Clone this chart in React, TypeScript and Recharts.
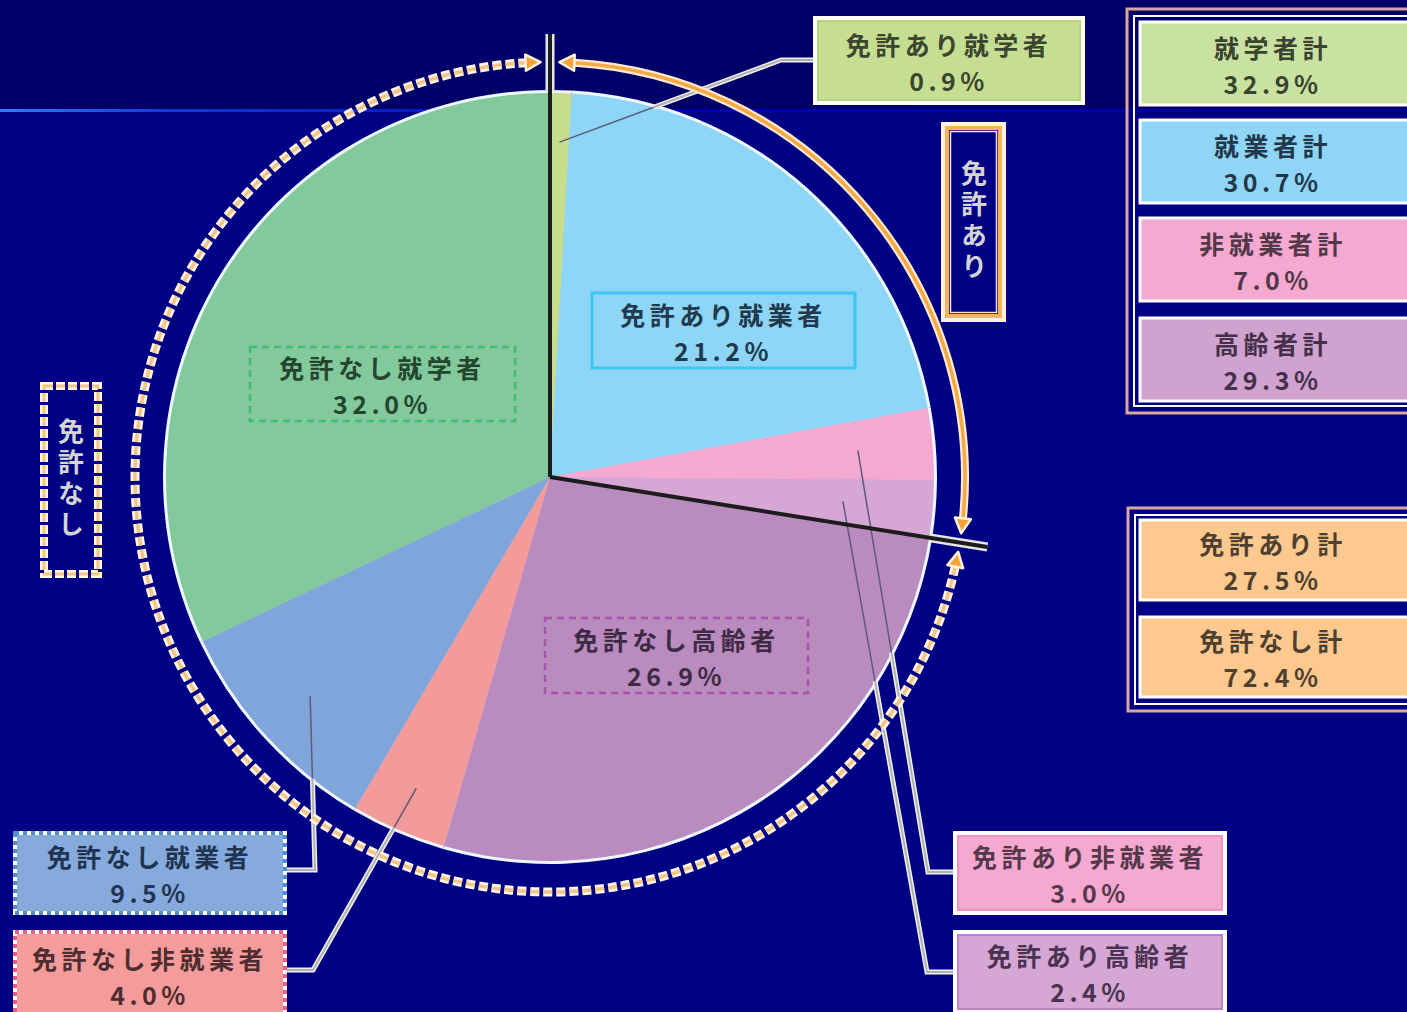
import React from 'react';
import { PieChart, Pie, Cell } from 'recharts';

// ---------------- data ----------------
const sliceNames = [
  '免許あり就学者',
  '免許あり就業者',
  '免許あり非就業者',
  '免許あり高齢者',
  '免許なし高齢者',
  '免許なし非就業者',
  '免許なし就業者',
  '免許なし就学者',
];
const sliceValues = [0.9, 21.2, 3.0, 2.4, 26.9, 4.0, 9.5, 32.0];

const licenseGroupNames = ['免許あり', '免許なし'];
const licenseGroupValues = [27.5, 72.4];

const categoryTotalNames = ['就学者計', '就業者計', '非就業者計', '高齢者計'];
const categoryTotalValues = [32.9, 30.7, 7.0, 29.3];

const licenseTotalNames = ['免許あり計', '免許なし計'];
const licenseTotalValues = [27.5, 72.4];

const slices = sliceNames.map((name, i) => ({ name, value: sliceValues[i] }));
const licenseGroups = licenseGroupNames.map((name, i) => ({ name, value: licenseGroupValues[i] }));

// ---------------- styles / layout ----------------
const W = 1407;
const H = 1012;
const FONT = '"Noto Sans CJK JP", "Noto Sans", sans-serif';
const RAD = Math.PI / 180;
const PIE_CX = 550;
const PIE_CY = 477;
const PIE_R = 384;
const RING_R = 415;
const DIVIDER_R = 443;

const SLICE_COLORS = ['#c8dd8c', '#8ed6f7', '#f6a9d0', '#d6a6d5', '#b98bbe', '#f39a9a', '#80a5da', '#82c99c'];

type LabelLayout = {
  box: [number, number, number, number];
  fill: string;
  border: 'frame' | 'solid' | 'dashed' | 'dotted';
  borderColor: string;
  text: string;
  leader?: { r: number; to: [number, number][] };
};

const SLICE_LABELS: LabelLayout[] = [
  { box: [815, 18, 268, 85], fill: '#c6de91', border: 'frame', borderColor: '#b2d078', text: '#3b4530', leader: { r: 335, to: [[781, 60], [815, 60]] } },
  { box: [592, 293, 263, 75], fill: 'none', border: 'solid', borderColor: '#3ec5f2', text: '#20394c' },
  { box: [955, 833, 270, 80], fill: '#f6a9d0', border: 'frame', borderColor: '#f08cc0', text: '#55384a', leader: { r: 309, to: [[928, 872], [955, 872]] } },
  { box: [955, 932, 270, 80], fill: '#d6a6d5', border: 'frame', borderColor: '#b87ab8', text: '#4a3350', leader: { r: 294, to: [[927, 972], [955, 972]] } },
  { box: [545, 618, 263, 75], fill: 'none', border: 'dashed', borderColor: '#a655ad', text: '#3f2a45' },
  { box: [15, 932, 270, 86], fill: '#f49c9c', border: 'dotted', borderColor: '#ee5d86', text: '#4e2c30', leader: { r: 339, to: [[313, 970], [285, 970]] } },
  { box: [15, 833, 270, 80], fill: '#87aadd', border: 'dotted', borderColor: '#4f8fd0', text: '#1f3450', leader: { r: 325, to: [[315, 870], [285, 870]] } },
  { box: [250, 347, 265, 74], fill: 'none', border: 'dashed', borderColor: '#3fbd6e', text: '#24452e' },
];

const CATEGORY_TOTAL_COLORS = ['#c9e2a2', '#8fd6f6', '#f5a9d0', '#cfa2cf'];
const CATEGORY_TOTAL_TEXT = ['#3a4230', '#22384a', '#523848', '#44304a'];
const CATEGORY_BOX_Y = [22, 120, 218, 318];
const LICENSE_TOTAL_COLOR = '#fdc98f';
const LICENSE_BOX_Y = [520, 617];

// ---------------- helpers ----------------
const polar = (cx: number, cy: number, r: number, a: number): [number, number] => [
  cx + r * Math.cos(-a * RAD),
  cy + r * Math.sin(-a * RAD),
];

const arcPath = (cx: number, cy: number, r: number, from: number, to: number) => {
  const [x1, y1] = polar(cx, cy, r, from);
  const [x2, y2] = polar(cx, cy, r, to);
  const large = from - to > 180 ? 1 : 0;
  return `M${x1},${y1} A${r},${r} 0 ${large} 1 ${x2},${y2}`;
};

const circleExit = (s: [number, number], p: [number, number], c: [number, number], R: number): [number, number] => {
  const dx = p[0] - s[0];
  const dy = p[1] - s[1];
  const fx = s[0] - c[0];
  const fy = s[1] - c[1];
  const a = dx * dx + dy * dy;
  const b = 2 * (fx * dx + fy * dy);
  const cc = fx * fx + fy * fy - R * R;
  const disc = Math.max(0, b * b - 4 * a * cc);
  const t = (-b + Math.sqrt(disc)) / (2 * a);
  return [s[0] + dx * t, s[1] + dy * t];
};

const textProps = {
  fontFamily: FONT,
  fontSize: 25,
  fontWeight: 700,
  letterSpacing: 4.5,
  textAnchor: 'middle' as const,
  dominantBaseline: 'central' as const,
};

const LINE_UP = 17;
const LINE_DOWN = 19;

const TwoLine = ({ x, yc, fill, a, b }: { x: number; yc: number; fill: string; a: string; b: string }) => (
  <g>
    <text {...textProps} x={x} y={yc - LINE_UP} fill={fill}>
      {a}
    </text>
    <text {...textProps} x={x} y={yc + LINE_DOWN} fill={fill}>
      {b}
    </text>
  </g>
);

const renderBox = (L: LabelLayout) => {
  const [x, y, w, h] = L.box;
  if (L.border === 'frame') {
    return (
      <g>
        <rect x={x} y={y} width={w} height={h} fill={L.fill} stroke="#ffffff" strokeWidth={4} />
        <rect x={x + 3} y={y + 3} width={w - 6} height={h - 6} fill="none" stroke={L.borderColor} strokeWidth={1.5} />
      </g>
    );
  }
  if (L.border === 'solid') {
    return <rect x={x} y={y} width={w} height={h} fill={L.fill} stroke={L.borderColor} strokeWidth={3} />;
  }
  if (L.border === 'dashed') {
    return <rect x={x} y={y} width={w} height={h} fill={L.fill} stroke={L.borderColor} strokeWidth={2.5} strokeDasharray="7 5" />;
  }
  return (
    <g>
      <rect x={x} y={y} width={w} height={h} fill={L.fill} stroke="#ffffff" strokeWidth={4} />
      <rect x={x} y={y} width={w} height={h} fill="none" stroke={L.borderColor} strokeWidth={4} strokeDasharray="4 4" />
    </g>
  );
};

const renderSliceLabel = (props: any) => {
  const { cx, cy, midAngle, outerRadius, index } = props;
  const L = SLICE_LABELS[index];
  if (!L) return null;
  const [x, y, w, h] = L.box;
  let leader: React.ReactNode = null;
  if (L.leader) {
    const s = polar(cx, cy, L.leader.r, midAngle);
    const first = L.leader.to[0];
    const exit = circleExit(s, first, [cx, cy], outerRadius);
    const outside = [exit, ...L.leader.to].map((p) => p.join(',')).join(' ');
    leader = (
      <g>
        <line x1={s[0]} y1={s[1]} x2={exit[0]} y2={exit[1]} stroke="#5d5a7a" strokeWidth={1.5} />
        <polyline points={outside} fill="none" stroke="#f0f0f0" strokeWidth={5} strokeLinejoin="miter" />
        <polyline points={outside} fill="none" stroke="#b0b0b0" strokeWidth={2} strokeLinejoin="miter" />
      </g>
    );
  }
  return (
    <g key={`slice-label-${index}`}>
      {leader}
      {renderBox(L)}
      <TwoLine x={x + w / 2} yc={y + h / 2} fill={L.text} a={sliceNames[index]} b={`${sliceValues[index].toFixed(1)}%`} />
    </g>
  );
};

const renderLicenseRing = (props: any) => {
  const { cx, cy, startAngle, endAngle, outerRadius, index } = props;
  const r = outerRadius;
  const gap = 1.3;
  const head = 15 / r / RAD;
  const a1 = startAngle - gap;
  const a2 = endAngle + gap;
  const b1 = a1 - head;
  const b2 = a2 + head;
  const d = arcPath(cx, cy, r, b1, b2);

  const arrow = (tipA: number, baseA: number) => {
    const P = polar(cx, cy, r, tipA);
    const B = polar(cx, cy, r, baseA);
    const len = Math.hypot(P[0] - B[0], P[1] - B[1]);
    const ux = (P[0] - B[0]) / len;
    const uy = (P[1] - B[1]) / len;
    const nx = -uy;
    const ny = ux;
    const wd = 8;
    const pts = [P, [B[0] + nx * wd, B[1] + ny * wd], [B[0] - nx * wd, B[1] - ny * wd]]
      .map((p) => p.join(','))
      .join(' ');
    return <polygon points={pts} fill="#f7a23a" stroke="#fff3dc" strokeWidth={2.5} strokeLinejoin="round" />;
  };

  const arc =
    index === 0 ? (
      <g>
        <path d={d} fill="none" stroke="#fdebcd" strokeWidth={8} />
        <path d={d} fill="none" stroke="#f6a848" strokeWidth={3.5} />
      </g>
    ) : (
      <g>
        <path d={d} fill="none" stroke="#fff6e6" strokeWidth={9} strokeDasharray="9 4" />
        <path d={d} fill="none" stroke="#f4c48a" strokeWidth={3.5} strokeDasharray="9 4" />
      </g>
    );

  let dividers: React.ReactNode = null;
  if (index === 0) {
    const lines = [startAngle, endAngle].map((a, k) => {
      const inner = polar(cx, cy, PIE_R + 1, a);
      const outer = polar(cx, cy, DIVIDER_R, a);
      return (
        <g key={`div-${k}`}>
          <line x1={inner[0]} y1={inner[1]} x2={outer[0]} y2={outer[1]} stroke="#e6e6e6" strokeWidth={9} />
          <line x1={cx} y1={cy} x2={outer[0]} y2={outer[1]} stroke="#1c1c1c" strokeWidth={4} />
        </g>
      );
    });
    dividers = <g>{lines}</g>;
  }

  return (
    <g key={`ring-${index}`}>
      {arc}
      {arrow(a1, b1)}
      {arrow(a2, b2)}
      {dividers}
    </g>
  );
};

// ---------------- decorations ----------------
const VerticalLabel = ({ text, x, yc }: { text: string; x: number; yc: number }) => (
  <text
    x={x}
    y={yc}
    fontFamily={FONT}
    fontSize={26}
    fontWeight={700}
    letterSpacing={5}
    textAnchor="middle"
    fill="#d4d4d4"
    style={{ writingMode: 'vertical-rl' }}
  >
    {text}
  </text>
);

const LegendBox = ({ y, h, fill, textColor, name, value }: any) => (
  <g>
    <rect x={1140} y={y} width={280} height={h} fill={fill} stroke="#ffffff" strokeWidth={3} />
    <TwoLine x={1273} yc={y + h / 2} fill={textColor} a={name} b={`${value.toFixed(1)}%`} />
  </g>
);

export default function App() {
  return (
    <div style={{ position: 'absolute', left: 0, top: 0, width: W, height: H, overflow: 'hidden', background: '#000085' }}>
      <style>{'body{margin:0;background:#000085;}'}</style>
      <svg width={W} height={H} style={{ position: 'absolute', left: 0, top: 0 }}>
        <defs>
          <linearGradient id="topline" x1="0" y1="0" x2="1" y2="0">
            <stop offset="0" stopColor="#2a80ff" />
            <stop offset="0.12" stopColor="#0c3ad8" />
            <stop offset="0.45" stopColor="#0000b8" />
            <stop offset="1" stopColor="#00009a" />
          </linearGradient>
        </defs>
        <rect x={0} y={0} width={W} height={110} fill="#000068" />
        <rect x={0} y={109} width={W} height={3} fill="url(#topline)" />
      </svg>

      <div style={{ position: 'absolute', left: 0, top: 0 }}>
        <PieChart width={W} height={H} margin={{ top: 0, right: 0, bottom: 0, left: 0 }}>
          <Pie
            data={slices}
            dataKey="value"
            cx={PIE_CX}
            cy={PIE_CY}
            outerRadius={PIE_R + 3}
            startAngle={90}
            endAngle={-270}
            fill="#eef7ff"
            stroke="none"
            isAnimationActive={false}
          />
          <Pie
            data={slices}
            dataKey="value"
            cx={PIE_CX}
            cy={PIE_CY}
            outerRadius={PIE_R}
            startAngle={90}
            endAngle={-270}
            stroke="none"
            label={renderSliceLabel}
            labelLine={false}
            isAnimationActive={false}
          >
            {slices.map((s, i) => (
              <Cell key={s.name} fill={SLICE_COLORS[i]} />
            ))}
          </Pie>
          <Pie
            data={licenseGroups}
            dataKey="value"
            cx={PIE_CX}
            cy={PIE_CY}
            innerRadius={RING_R}
            outerRadius={RING_R}
            startAngle={90}
            endAngle={-270}
            fill="none"
            stroke="none"
            label={renderLicenseRing}
            labelLine={false}
            isAnimationActive={false}
          />
        </PieChart>
      </div>

      <svg width={W} height={H} style={{ position: 'absolute', left: 0, top: 0, pointerEvents: 'none' }}>
        {/* 免許あり vertical box */}
        <rect x={943} y={124} width={61} height={196} fill="#000085" stroke="#fff1dc" strokeWidth={4} />
        <rect x={947} y={128} width={53} height={188} fill="none" stroke="#f7b45c" strokeWidth={4} />
        <rect x={950.5} y={131.5} width={46} height={181} fill="none" stroke="#ffe4c0" strokeWidth={1.5} />
        <VerticalLabel text="免許あり" x={974} yc={222} />

        {/* 免許なし vertical box */}
        <rect x={44} y={386} width={54} height={188} fill="none" stroke="#fff6e6" strokeWidth={8} strokeDasharray="9 3" />
        <rect x={44} y={386} width={54} height={188} fill="none" stroke="#f4c48a" strokeWidth={3} strokeDasharray="9 3" />
        <VerticalLabel text="免許なし" x={71} yc={480} />

        {/* category totals frame */}
        <rect x={1127} y={9} width={300} height={404} fill="none" stroke="#d9a79f" strokeWidth={3} />
        <rect x={1134} y={16} width={300} height={390} fill="none" stroke="#ffffff" strokeWidth={2} />
        {categoryTotalNames.map((n, i) => (
          <LegendBox
            key={n}
            y={CATEGORY_BOX_Y[i]}
            h={83}
            fill={CATEGORY_TOTAL_COLORS[i]}
            textColor={CATEGORY_TOTAL_TEXT[i]}
            name={n}
            value={categoryTotalValues[i]}
          />
        ))}

        {/* license totals frame */}
        <rect x={1128} y={508} width={300} height={203} fill="none" stroke="#d9a79f" strokeWidth={3} />
        <rect x={1135} y={515} width={300} height={189} fill="none" stroke="#ffffff" strokeWidth={2} />
        {licenseTotalNames.map((n, i) => (
          <LegendBox
            key={n}
            y={LICENSE_BOX_Y[i]}
            h={80}
            fill={LICENSE_TOTAL_COLOR}
            textColor="#4e4030"
            name={n}
            value={licenseTotalValues[i]}
          />
        ))}
      </svg>
    </div>
  );
}
